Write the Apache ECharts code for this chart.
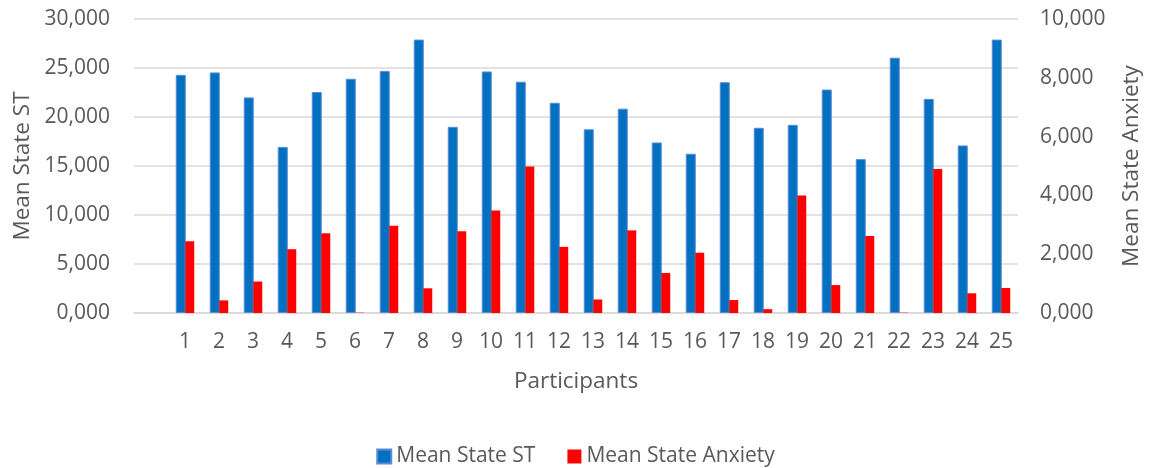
<!DOCTYPE html>
<html><head><meta charset="utf-8">
<script src="https://cdn.jsdelivr.net/npm/echarts@6/dist/echarts.min.js"></script>
<style>html,body{margin:0;padding:0;background:#fff}#c{width:1151px;height:468px}</style>
</head><body><div id="c"></div>
<script>
const participants = ['1','2','3','4','5','6','7','8','9','10','11','12','13','14','15','16','17','18','19','20','21','22','23','24','25'];
const meanStateST = [24.30,24.55,22.00,16.95,22.55,23.90,24.70,27.90,19.00,24.65,23.60,21.45,18.75,20.85,17.40,16.25,23.55,18.90,19.20,22.80,15.70,26.05,21.85,17.10,27.90];
const meanStateAnxiety = [2.44,0.43,1.07,2.17,2.71,0.01,2.97,0.84,2.78,3.49,4.98,2.25,0.46,2.81,1.36,2.05,0.44,0.13,4.00,0.95,2.62,0.01,4.90,0.67,0.85];

const cats = [''].concat(participants);
const st = [null].concat(meanStateST);
const anx = [null].concat(meanStateAnxiety);
const fmt = v => v.toFixed(3).replace('.', ',');
const txt = '#595959';
const ff = 'Open Sans';

const chart = echarts.init(document.getElementById('c'));
chart.setOption({
  animation: false,
  textStyle: {fontFamily: ff, color: txt},
  grid: {left: 134, right: 133, top: 19, bottom: 155, containLabel: false},
  legend: {
    top: 441, left: 'center', itemWidth: 14, itemHeight: 14, itemGap: 32,
    icon: 'rect',
    textStyle: {fontFamily: ff, fontSize: 21, color: txt},
    data: ['Mean State ST', 'Mean State Anxiety']
  },
  xAxis: {
    type: 'category', data: cats,
    name: 'Participants', nameLocation: 'middle', nameGap: 57,
    nameTextStyle: {fontFamily: ff, fontSize: 22.5, color: txt},
    axisLine: {lineStyle: {color: '#d9d9d9', width: 1.5}},
    axisTick: {show: false},
    axisLabel: {fontFamily: ff, fontSize: 21, color: txt, margin: 19, interval: 0}
  },
  yAxis: [{
    type: 'value', min: 0, max: 30, interval: 5,
    name: 'Mean State ST', nameLocation: 'middle', nameGap: 98, nameRotate: 90,
    nameTextStyle: {fontFamily: ff, fontSize: 22.5, color: txt},
    axisLabel: {formatter: fmt, fontFamily: ff, fontSize: 21, color: txt, margin: 24},
    axisLine: {show: false}, axisTick: {show: false},
    splitLine: {lineStyle: {color: '#d9d9d9', width: 1.5}}
  }, {
    type: 'value', min: 0, max: 10, interval: 2,
    name: 'Mean State Anxiety', nameLocation: 'middle', nameGap: 102, nameRotate: 90,
    nameTextStyle: {fontFamily: ff, fontSize: 22.5, color: txt},
    axisLabel: {formatter: fmt, fontFamily: ff, fontSize: 21, color: txt, margin: 22},
    axisLine: {show: false}, axisTick: {show: false},
    splitLine: {show: false}
  }],
  series: [{
    name: 'Mean State ST', type: 'bar', yAxisIndex: 0, data: st,
    barWidth: 10, barGap: '-5%',
    itemStyle: {color: '#0070C0', borderColor: '#5b8bd6', borderWidth: 1}
  }, {
    name: 'Mean State Anxiety', type: 'bar', yAxisIndex: 1, data: anx,
    barWidth: 9,
    itemStyle: {color: '#FF0000'}
  }]
});
</script></body></html>
